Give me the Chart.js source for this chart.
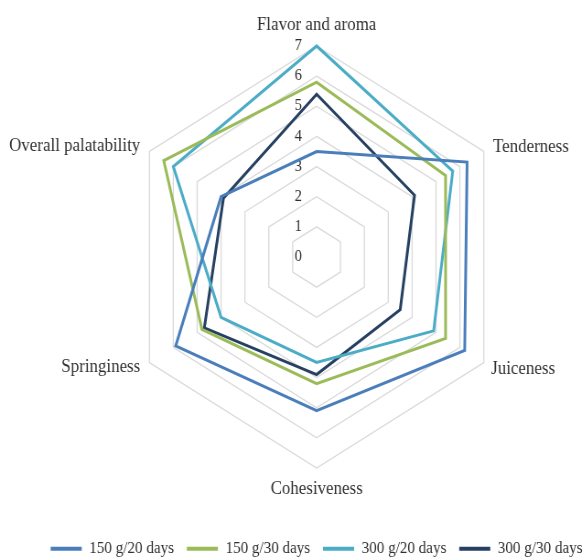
<!DOCTYPE html>
<html lang="en">
<head>
    <meta charset="UTF-8">
    <title>Sensory evaluation - radar</title>
    <script src="https://cdn.jsdelivr.net/npm/chart.js"></script>
    <style>
        body { margin: 0; background: #fff; overflow: hidden; }
        #wrap { width: 587px; height: 557px; overflow: hidden; }
        /* the source picture is squeezed horizontally */
        #radar { transform: scaleX(0.915); transform-origin: 0 0; }
    </style>
</head>
<body>
    <div id="wrap">
        <canvas id="radar" width="692" height="557"></canvas>
    </div>

    <script>
        const categories = ['Flavor and aroma', 'Tenderness', 'Juiceness', 'Cohesiveness', 'Springiness', 'Overall palatability'];
        const tickValues = [0, 1, 2, 3, 4, 5, 6, 7];

        const g150d20 = [3.5, 6.3, 6.2, 5.1, 5.9, 4.0];
        const g150d30 = [5.8, 5.4, 5.4, 4.2, 4.8, 6.4];
        const g300d20 = [7.0, 5.7, 4.9, 3.5, 4.0, 6.0];
        const g300d30 = [5.4, 4.1, 3.5, 3.9, 4.7, 3.9];

        const FONT = '"Liberation Serif", "Times New Roman", serif';
        const TEXT = '#303030';

        // tick numbers sit left of the vertical axis, category names around the outer ring
        const labelPlace = [[0, -21, 'center'], [10, -4, 'left'], [8, 7, 'left'], [0, 21, 'center'], [-10, 5, 'right'], [-10, -5, 'right']];

        const axisText = {
            id: 'axisText',
            beforeDatasetsDraw(chart) {
                const r = chart.scales.r;
                const ctx = chart.ctx;
                ctx.save();
                ctx.fillStyle = TEXT;
                ctx.textBaseline = 'middle';
                ctx.textAlign = 'center';
                ctx.font = '16px ' + FONT;
                tickValues.forEach(v => {
                    ctx.fillText(String(v), r.xCenter - 20, r.yCenter - r.getDistanceFromCenterForValue(v));
                });
                ctx.font = '18.5px ' + FONT;
                categories.forEach((name, i) => {
                    const p = r.getPointPosition(i, r.drawingArea);
                    const [dx, dy, align] = labelPlace[i];
                    ctx.textAlign = align;
                    ctx.fillText(name, p.x + dx, p.y + dy);
                });
                ctx.restore();
            }
        };

        const series = (label, data, color) => ({
            label: label,
            data: data,
            borderColor: color,
            backgroundColor: color,
            borderWidth: 3,
            borderJoinStyle: 'miter',
            pointRadius: 0,
            fill: false,
            tension: 0
        });

        new Chart(document.getElementById('radar'), {
            type: 'radar',
            data: {
                labels: categories,
                datasets: [
                    series('150 g/20 days', g150d20, '#4a7ebb'),
                    series('150 g/30 days', g150d30, '#9bbb59'),
                    series('300 g/20 days', g300d20, '#4bacc6'),
                    series('300 g/30 days', g300d30, '#254061')
                ]
            },
            options: {
                responsive: false,
                animation: false,
                devicePixelRatio: 1,
                layout: { padding: { top: 46, bottom: -10, left: 0, right: 0 } },
                scales: {
                    r: {
                        min: 0,
                        max: 7,
                        ticks: { stepSize: 1, display: false },
                        grid: { color: '#d9d9d9', lineWidth: 1.3 },
                        angleLines: { display: false },
                        pointLabels: { display: false }
                    }
                },
                plugins: {
                    tooltip: { enabled: false },
                    legend: {
                        position: 'bottom',
                        title: { display: true, text: '', padding: { top: 0, bottom: 57 }, font: { size: 1 } },
                        labels: {
                            usePointStyle: true,
                            pointStyle: 'line',
                            pointStyleWidth: 34,
                            padding: 14,
                            color: TEXT,
                            font: { family: FONT, size: 16.5 },
                            generateLabels: (chart) => Chart.defaults.plugins.legend.labels.generateLabels(chart)
                                .map(item => Object.assign(item, { lineWidth: 4 }))
                        }
                    }
                }
            },
            plugins: [axisText]
        });
    </script>
</body>
</html>
